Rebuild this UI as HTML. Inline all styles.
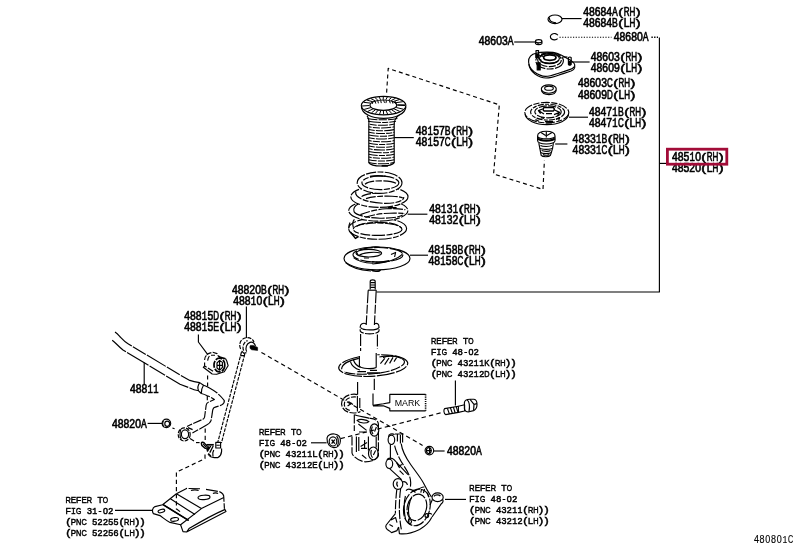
<!DOCTYPE html>
<html><head><meta charset="utf-8"><title>48510 Front Suspension</title>
<style>
html,body{margin:0;padding:0;background:#fff;}
body{width:796px;height:549px;overflow:hidden;font-family:"Liberation Sans",sans-serif;}
svg{will-change:transform;position:absolute;left:0;top:0;display:block;font-family:"Liberation Sans",sans-serif;}
</style></head><body>
<svg width="796" height="549" viewBox="0 0 796 549">
<rect width="796" height="549" fill="#fff"/>
<g fill="none" stroke="#000" stroke-width="1.15" stroke-linecap="butt" stroke-linejoin="round">
<!-- ===== main leader frame ===== -->
<path d="M376.5 292H659.4V37.5"/>
<path d="M659.4 163.4H666"/>
<path d="M651.4 37.3H658" stroke-width="1.4" stroke-dasharray="1.4 1.3"/>
<path d="M559.5 37.2H611.5" stroke-dasharray="1.2 1.5"/>

<!-- ===== 48684A cap ===== -->
<ellipse cx="555" cy="19.3" rx="7" ry="4.3"/>
<path d="M549.3 17.5C549.3 21 552 22.6 556 22.8"/>
<path d="M562 18.6H581.6"/>
<!-- 48680A ring -->
<path d="M557.6 38.6A4 3.2 0 1 1 557.9 35.2"/>
<!-- 48603A nut -->
<path d="M514.2 42H535"/>
<ellipse cx="538.7" cy="41.2" rx="3.2" ry="1.6"/>
<path d="M535.5 41.4V43.6C536.8 45 540.6 45 541.9 43.6V41.4"/>
<path d="M538 42.8V44.6"/>

<!-- ===== 48603 upper support ===== -->
<path d="M528.6 62C528.2 57.5 531.5 54 536 53.2C541 52 552 51.6 557 53.2C561.5 54.6 564.5 56.6 567.3 58.4C570.5 60 574.6 62.4 574.8 65C574.8 67.6 572 68.8 569.5 69.6C565 71 560.5 72.6 557 73.8C553 75.2 549.5 76.4 545.5 76.4C541 76.4 537 74 534 71.8C531 69.4 528.9 66 528.6 62Z"/>
<path d="M528.8 64.2C529.4 68.6 532 71.8 535 74C538 76.2 541.5 78 546 78C550.5 78 554.5 76.6 558.4 75.2C562.5 73.8 567 72.4 571 71C573.6 70 575 68.6 574.8 66.4"/>
<ellipse cx="549.6" cy="60.8" rx="13.8" ry="8.2" stroke-dasharray="12 1.4 7 1.4"/>
<ellipse cx="549.4" cy="58.6" rx="10" ry="5"/>
<ellipse cx="549.8" cy="57.6" rx="6.2" ry="2.7" stroke-width="1.7"/>
<ellipse cx="549.5" cy="60" rx="11.8" ry="6.6" stroke-dasharray="7 1.4"/>
<path d="M541 61.2C543 63.6 555 64 558 61"/>
<path d="M536 50.6H538.6V57.4H536Z"/><path d="M536 54H538.6V57.4H536Z" fill="#000"/>
<path d="M537.2 62.8H540.2V70H537.2Z" fill="#000"/>
<path d="M568.4 57.6C569.2 56.8 570.6 56.8 571.2 57.6V64.4C570.6 65.4 569.2 65.4 568.4 64.4Z"/>
<path d="M568.6 61.5H570.4V64.6H568.6Z" fill="#000"/>
<path d="M571.4 62H589.6"/>
<path d="M562.6 57H567.4"/>
<path d="M538.6 58.6L541.6 60.4M540.4 55.4L543 56.6"/>

<!-- 48603C washer -->
<ellipse cx="548.8" cy="89" rx="7.5" ry="4.2"/>
<ellipse cx="549" cy="88.2" rx="4.3" ry="2.1"/>
<path d="M541.4 90.2C542 93.4 545.5 94.6 549 94.6C552.5 94.6 555.8 93.4 556.2 90.2"/>

<!-- ===== 48471B seat ===== -->
<ellipse cx="546.8" cy="112.6" rx="22" ry="10.2" stroke-dasharray="9 1.5 6 1.5"/>
<path d="M525 114.4C526.4 120.2 535 124.6 546.8 124.6C559 124.6 567.6 120.2 568.6 114.4"/>
<ellipse cx="547.6" cy="112.1" rx="17" ry="7.9" stroke-dasharray="6 1.3 4 1.3"/>
<ellipse cx="548" cy="111.8" rx="13.2" ry="6" stroke-dasharray="8 1.3"/>
<path d="M544 107.6H553.4C554.6 108.4 554.6 110.2 553.4 111H544C542.8 110.2 542.8 108.4 544 107.6Z" stroke-width="1.5"/>
<path d="M542.6 109L538.4 110.6L540.6 113.6M538.4 110.6L544 114M554.6 110L559.6 112.4L557.4 115.6M559.6 112.4L554 114.6M546 113.6H552" stroke-width="1.2"/>
<path d="M535.4 119.6L539 121.2M541 117.6L544 118.4M545 121.4H553M545.6 123H552M556 119.4L559.6 117.6L558.6 120.6" stroke-width="1.2"/>
<path d="M569 117.2H588"/>

<!-- ===== 48331B bumper ===== -->
<path d="M537.6 136C537.4 133 541 131.2 546.3 131.2C551.5 131.2 555.2 133 555 136V140.6C555.2 142.6 551.5 144 546.3 144C541 144 537.4 142.6 537.6 140.6Z"/>
<path d="M537.8 136.8C540 139.4 552.6 139.4 554.8 136.8"/>
<path d="M538 138.4C540 141.4 552.6 141.4 554.8 138.4" stroke-width="2.2"/>
<path d="M546.3 131.4V137.4M541 132.6L545.6 135.6M552 132.6L547 135.6"/>
<path d="M538.8 143.2L539.8 148.2C541.4 149.8 551 149.8 552.6 148.2L553.4 143.2"/>
<path d="M539.8 148.2L540.6 152.4C542 153.8 550 153.8 551.4 152.4L552.6 148.2"/>
<path d="M540.6 152.4L541.2 155.4C542.6 157.2 549 157.2 550.4 155.4L551.4 152.4"/>
<path d="M540.4 145.4C542.6 146.8 550 146.8 552 145.4M541.6 150.6C543.6 151.6 549 151.6 550.6 150.6M543 154.6C544.6 155.2 548 155.2 549.4 154.6"/>
<path d="M555.2 144H567.4"/>

<!-- ===== dashed assembly outline ===== -->
<path d="M386.6 92.6L388.2 68.4L499.3 104.8L493.6 174L543 189.4L544.4 160.5" stroke-dasharray="4 3.1"/>

<!-- ===== 48157B boot ===== -->
<ellipse cx="383.6" cy="105.6" rx="22.3" ry="9.2"/>
<path d="M361.4 106.6C361.8 113.4 371 118.4 383.6 118.4C396.4 118.4 405.6 113.4 405.9 106.6"/>
<ellipse cx="383.4" cy="105.2" rx="13.4" ry="5.2"/>
<path d="M397.4 105.2L405.2 105.6M396.2 107.5L403.3 109.2M393.9 108.8L399.8 111.4M391.5 109.7L396.0 112.7M388.8 110.3L391.9 113.6M386.0 110.6L387.6 114.1M383.4 110.7L383.6 114.3M380.8 110.6L379.6 114.1M378.0 110.3L375.3 113.6M375.5 109.7L371.5 112.8M373.0 108.9L367.6 111.5M370.8 107.6L364.2 109.4M369.4 105.5L362.0 106.0M370.5 103.1L363.6 102.3M372.6 101.7L367.0 100.1M375.2 100.8L370.9 98.6M377.8 100.2L375.0 97.6M380.6 99.8L379.2 97.1M383.2 99.7L383.3 96.9M385.8 99.8L387.3 97.0M388.6 100.1L391.6 97.5M391.1 100.6L395.5 98.3M393.6 101.4L399.3 99.6M395.9 102.7L402.8 101.7M397.4 104.8L405.1 104.9" stroke-width="1"/>
<path d="M372.0 101.2 l0.6 2.6M374.9 101.0 l0.9 2.6M377.8 100.7 l0.6 2.6M380.7 100.5 l0.6 2.6M383.6 100.2 l0.9 2.6M386.5 100.5 l-0.6 2.6M389.4 100.7 l0.9 2.6M392.3 101.0 l0.6 2.6M395.2 101.2 l0.6 2.6" stroke-width="1"/>
<path d="M367 115.6C368.6 118 369.4 121 368.8 125V162.6C370 164.8 375 166 381.2 166C387.4 166 393 164.8 394.2 162.6V125C393.8 121 395 118 399.6 114.6"/>
<g stroke-width="1.05"><path d="M367.4 118.6C374.4 120.2 390.4 120.2 397.4 118.6" stroke-dasharray="8 1.2 11 1.2" stroke-dashoffset="10"/>
<path d="M368.0 121.3C375.0 122.9 389.0 122.9 396.0 121.3" stroke-dasharray="13 1.2 6 1.2" stroke-dashoffset="0"/>
<path d="M368.6 124.1C375.6 125.7 387.6 125.7 394.6 124.1" stroke-dasharray="10 1.2 7 1.2" stroke-dashoffset="10"/>
<path d="M368.8 126.8C375.8 128.4 387.2 128.4 394.2 126.8" stroke-dasharray="10 1.2 7 1.2" stroke-dashoffset="7"/>
<path d="M368.8 129.6C375.8 131.2 387.2 131.2 394.2 129.6" stroke-dasharray="10 1.2 7 1.2" stroke-dashoffset="4"/>
<path d="M368.8 132.3C375.8 133.9 387.2 133.9 394.2 132.3" stroke-dasharray="6 1.2 9 1.2" stroke-dashoffset="0"/>
<path d="M368.8 135.1C375.8 136.7 387.2 136.7 394.2 135.1" stroke-dasharray="10 1.2 7 1.2" stroke-dashoffset="0"/>
<path d="M368.8 137.8C375.8 139.4 387.2 139.4 394.2 137.8" stroke-dasharray="8 1.2 11 1.2" stroke-dashoffset="2"/>
<path d="M368.8 140.6C375.8 142.2 387.2 142.2 394.2 140.6" stroke-dasharray="10 1.2 7 1.2" stroke-dashoffset="7"/>
<path d="M368.8 143.3C375.8 144.9 387.2 144.9 394.2 143.3" stroke-dasharray="6 1.2 9 1.2" stroke-dashoffset="7"/>
<path d="M368.8 146.1C375.8 147.7 387.2 147.7 394.2 146.1" stroke-dasharray="6 1.2 9 1.2" stroke-dashoffset="0"/>
<path d="M368.8 148.8C375.8 150.4 387.2 150.4 394.2 148.8" stroke-dasharray="8 1.2 11 1.2" stroke-dashoffset="4"/>
<path d="M368.8 151.6C375.8 153.2 387.2 153.2 394.2 151.6" stroke-dasharray="13 1.2 6 1.2" stroke-dashoffset="0"/>
<path d="M368.8 154.3C375.8 155.9 387.2 155.9 394.2 154.3" stroke-dasharray="13 1.2 6 1.2" stroke-dashoffset="4"/>
<path d="M368.8 157.1C375.8 158.7 387.2 158.7 394.2 157.1" stroke-dasharray="10 1.2 7 1.2" stroke-dashoffset="7"/>
<path d="M368.8 159.8C375.8 161.4 387.2 161.4 394.2 159.8" stroke-dasharray="10 1.2 7 1.2" stroke-dashoffset="2"/>
<path d="M368.8 162.6C375.8 164.2 387.2 164.2 394.2 162.6" stroke-dasharray="8 1.2 11 1.2" stroke-dashoffset="0"/></g>
<path d="M381.6 165.8H388" stroke-width="1.6"/>
<path d="M394.2 137.6H413.8"/>

<!-- ===== 48131 coil spring ===== -->
<g stroke-dasharray="10 1.4 6 1.4 13 1.4">
<ellipse cx="377.6" cy="228.6" rx="29" ry="10.7" fill="#fff"/>
<ellipse cx="377.6" cy="229.2" rx="24.4" ry="6.2"/>
<path d="M356.4 226.4C362 222.6 376 221.6 388 222.8C395 223.6 400 225.6 401.6 228.4"/>
<path d="M350 222.4C349 224.4 348.6 226.6 348.8 228.6M354.4 219.4C352.6 221.6 352.4 224.6 353.4 227.6"/>
<ellipse cx="378.3" cy="210.6" rx="29.6" ry="10.5" fill="#fff"/>
<path d="M354 211.6C352.6 207 357 203.6 363 202M354 211.6C356 215 366 218 380 218.2C394 218.4 403.6 216.4 403.8 213.2"/>
<path d="M360.4 214.6C368 211.6 377 209.4 386 208.8C394 208.4 401 208.8 405.4 209.8M365.4 217.4C372 214.8 381 213.4 389.6 213.2C395 213 400 213.2 403.2 213.4"/>
<ellipse cx="379.4" cy="196.8" rx="28.6" ry="10.6" fill="#fff"/>
<path d="M355.8 191.6C355 194.6 358 197.6 363 199.6C370 202.4 380 203.8 390 203.2C398 202.6 404 200.4 403.8 197"/>
<path d="M361.6 196.6C364 194.6 369 193.6 376 193.2M366 198.6C372 196.6 382 195.8 392 196.2C397 196.4 401 197 402.8 198"/>
<ellipse cx="379.6" cy="182.7" rx="22.4" ry="10.7" fill="#fff"/>
<ellipse cx="380.4" cy="182.8" rx="18.5" ry="6.8"/>
<path d="M365 184.2C368 181.6 374 180.8 381 180.8C388 180.8 394 181.8 396.6 183.6"/>
</g>
<path d="M370 176.6C373 175.8 380 175.6 385.6 176.2" stroke-width="1.6"/>
<path d="M388 207.8H396.6M350.4 232L355.4 238.4L358.4 236.6" stroke-width="1.5"/>
<path d="M407.6 214.2H427.4"/>

<!-- ===== 48158B lower insulator ===== -->
<ellipse cx="377" cy="258.4" rx="33" ry="11.4"/>
<ellipse cx="378" cy="254.8" rx="25" ry="7.3" stroke-dasharray="14 1.5"/>
<ellipse cx="368.8" cy="253.2" rx="12.8" ry="3.8"/>
<path d="M359 255.6C362 252.6 374 251.4 380.6 253"/>
<path d="M356 251.4L358.6 256M353.6 257.6C358 261.6 366 263 373 263.2M364 258H369M372 261.6C377 262.4 384 262 389 260.6M391 254.6L395.6 252.4L394.6 257M398.4 249.6L401 251.8"/>
<path d="M371.4 269.6C372.6 271.6 379.4 271.8 380.4 269.8" stroke-width="1.6"/>
<path d="M345.6 262.6C350 267 360 270 371 271M372.4 264C380 263.4 391 261 396 258.6C399 257 401.4 255.6 402.4 254"/>
<path d="M370.6 247.6C372.6 246.4 378.4 246.4 380.2 247.6"/>
<path d="M410 255.2H428"/>

<!-- ===== red highlight box ===== -->

<!-- ===== strut (shock absorber) ===== -->
<path d="M370.2 289.6V281.4C370.2 279.4 375.2 279.4 375.2 281.4V289.6"/>
<path d="M370.4 282.6H375M370.4 285H375M370.4 287.4H375" stroke-width="1.2"/>
<path d="M368 290.2H376.4"/>
<path d="M368.2 290.2L366.2 325M376.2 290.2L374.4 325" stroke-dasharray="13 1.6 9 1.6"/>
<path d="M366.2 323.8C363 322.4 360.2 324 360.2 327V331C361.6 334.8 377.6 334.8 379 331V327C379 324 377 322.6 374.6 323.8" stroke-dasharray="9 1.4 6 1.4"/>
<path d="M360.6 327.6C363 330.6 376.6 330.8 378.8 327.6"/>
<path d="M360.6 334V351M377.4 334.6V349" stroke-dasharray="12 2 8 2"/>
<path d="M359.4 356V366.4M376.2 353V367.4"/>
<path d="M359.4 366.4C362 368.8 372 369.4 376.4 367.4"/>
<!-- spring seat plate -->
<g transform="rotate(-4 373.3 365.6)">
<path d="M360 355.8A34.6 10.6 0 1 0 378 355.1" stroke-dasharray="18 1.4 12 1.4"/>
<path d="M341.4 367C342 362 350 358.6 359.4 357.4"/>
<path d="M380 357.4C390 355.8 402 357.8 404.6 363.2C405.4 367.6 396 371.8 380 373.4C366 374.4 351 373.2 343.6 369.8" stroke-dasharray="10 1.4"/>
</g>
<path d="M350.4 361.6C351.6 365.6 355 368.6 360 370M353.4 360C354.6 363.4 357 366 360.6 367.4"/>
<path d="M380.4 363.6L384.8 358.4M384.6 364.6L389 358M389.6 363.4L393 357.4M394 361.6L396.6 357.6M383 357.6C388 355.6 396 355.6 401.6 358.4"/>
<path d="M357.4 371.6H366M367 373H380M370 370.4H377" stroke-width="1.3"/>
<path d="M357.6 382V394.6M374.3 378.8V390M373 393.4V405.4"/>
<!-- MARK tag -->
<path d="M373 405.4L383.4 403.8L389.8 402.6V394.3H425.6M425.6 410.8H389.8V408.4L383.4 405.8H373"/>
<path d="M425.6 394.3V410.8" stroke-width="1.6" stroke-dasharray="1.2 1"/>
<!-- upper fork loop -->
<path d="M357.6 394.6C352 393 344 395.6 342 401C340.4 406 343.6 411 349 412.4C353 413.4 358 413 360.4 411.4" stroke-dasharray="7 1.4"/>
<path d="M356 397C351 396.4 346 398.4 344.6 402.4C343.4 406.4 346 409.6 350 410.4" stroke-dasharray="5 1.4"/>
<path d="M357.4 396V411.6M359.8 398V408" />
<path d="M348.4 401.6L353 404.6M347.6 406L352 403"/>
<!-- bracket body -->
<path d="M354.3 414.6V431M352 436.6V453C352.6 456.6 360 461.6 365 461.8C371 461.8 377.6 459.6 378.4 456V424C378 420.4 374 418.2 370 418.4" stroke-dasharray="9 1.6"/>
<path d="M354.6 414.8C358 416 364 417 369.6 418.4M357 420.4C360 418.6 366.6 419.6 369 421.6C366.6 423.6 360 423.6 357 420.4ZM358.4 424L366.6 430.4M359 432H365.6M356.4 436.6V452M358.8 437V451"/>
<ellipse cx="374.4" cy="430" rx="4.4" ry="6.2"/>
<ellipse cx="373.3" cy="453.4" rx="4.8" ry="6.4"/>
<path d="M372.4 426.6C371.4 428.6 371.6 432 373 434M376.4 427L374.6 431.6M371.4 450C370.6 452.6 371 456 372.6 457.6M375.6 450.4L373.4 455"/>
<path d="M368.4 436.4V450.6M376.2 436.6V447.6M364.6 440V449M360.6 446.6L367 442.6M361 448.4H367M362 455L366.4 458.6" />

<!-- long dashed guide lines -->
<path d="M261.4 352.4L422.6 445.4" stroke-dasharray="4.4 3.2"/>
<path d="M340.6 438.6L443.4 412.2" stroke-dasharray="4.4 3.2"/>

<!-- nut (left of knuckle) -->
<path d="M327 438C327.4 435 331 433.6 334.4 434C338 434.4 340.6 437 340.4 441C340.2 445 337.6 447.8 333.6 447.6C330 447.4 326.8 444 327 438Z"/>
<ellipse cx="333" cy="441.4" rx="3.8" ry="4.6"/>
<path d="M331.6 439.6L334.8 443.6M334.8 439.6L331.6 443.6" stroke-width="1.4"/>
<path d="M336.6 436C338.6 438 339 444 337.2 446.4"/>
<path d="M311 442.8H326.6"/>
<!-- 48820A nut right -->
<circle cx="429.4" cy="450.6" r="4.3"/>
<ellipse cx="428.8" cy="450.6" rx="2.4" ry="3"/>
<path d="M429.6 448V453.4M427 450.6H431.6" />
<path d="M434 451H444.6"/>
<!-- 48820A nut left -->
<ellipse cx="166.4" cy="423.4" rx="4.3" ry="4.2"/>
<ellipse cx="167.2" cy="423.8" rx="2.4" ry="2.6"/>
<path d="M163.4 421C162.4 423 162.6 425.4 164 427" />
<path d="M147.6 423.4H162"/>
<path d="M172.4 428L174.6 428.8"/>

<!-- ===== bolt ===== -->
<path d="M455.4 380.6V405.6"/>
<path d="M444.6 408.6C443.4 410 443.8 413.6 445.6 414.6L458.4 412.4V406.2Z"/>
<path d="M447.4 408.4L449.4 414M450.4 407.8L452.4 413.4M453.4 407.2L455.2 413M456.2 406.6L458 412.4" />
<path d="M458.4 406.2L464.6 404.8V411L458.4 412.4"/>
<path d="M464.4 402.6C464.6 400.6 467 399.2 470 399.2H474C476 399.4 477 402 477 404.6C477 407.4 476 409.6 473.6 410.6L469 411.8C466.6 412 464.6 411 464.4 408.6Z"/>
<path d="M467 399.6C469.4 401.6 470 406 469 411.6M470 399.4L474 404.4L473.6 410.4M474 404.4L477 403.6"/>

<!-- ===== knuckle ===== -->
<ellipse cx="391.4" cy="439.8" rx="3.3" ry="4.7"/>
<path d="M388.6 437C388.4 434 392 433 394.6 434.6M395 434H402.6V442.4M397.4 434.2V441.6M400.4 435V443.4"/>
<path d="M390.4 444.6V458.6"/>
<ellipse cx="389.3" cy="463.8" rx="3.4" ry="4.7"/>
<path d="M387 460C388 457.6 392 457.6 394 459.6L408 474.6M389.6 468.6L401.6 479.6"/>
<path d="M394.6 445.6C396 452 400 460 404 466C407 470.6 409.6 475 410.4 479.6C411 483 410.6 486 410.2 488" stroke-dasharray="10 1.5"/>
<path d="M401.2 443.6C402 450 406 458 411 465C416 472 421 478 424 484C427 490 429.6 494 431.4 497" />
<path d="M396.6 462.6L399.6 468M398 466.6L402 464.6M399.6 470.6L403.6 474.6"/>
<ellipse cx="398" cy="484" rx="4.8" ry="5.4"/>
<path d="M397.4 481.6C396.6 483 396.8 485.4 397.8 486.6M402.4 482C405 481 407 482.6 407.4 485"/>
<path d="M396.8 489.6C396 496 395.4 506 395.4 513.6" stroke-dasharray="9 1.5"/>
<path d="M400.6 489C399.6 496 399 506 399.6 515C400 521 400.6 526 401.4 529.6" stroke-dasharray="9 1.5"/>
<path d="M395.4 513.6L386.2 525C385 527 386.6 529.6 389 530.6L391.6 532.6L397 530.6L398.6 527M391 520L395.6 517.6L397 522.6M389.4 524.6L393 526.4M398.6 527L399.4 533.6C404 534.4 412 533 419.6 529.4C425 526.4 429.6 521.6 431.8 517.2" />
<g transform="rotate(14 417 507)">
<ellipse cx="417" cy="507.4" rx="13" ry="18.6" stroke-dasharray="11 1.5"/>
<ellipse cx="417" cy="507.4" rx="9.6" ry="13.4" stroke-dasharray="14 1.5"/>
<path d="M409.6 498C408 504 408.6 513 412 518.6" />
</g>
<path d="M406 490.6C408 488 411.6 489.6 414 491.4C418 489 422 486.6 424.4 487M424.6 489L423.4 493M409.4 522.4C408 520.6 408.6 518 410.6 517.6M405.4 496C404 502 404 512 405.6 519.6"/>
<ellipse cx="409.8" cy="521.6" rx="1.7" ry="2"/><ellipse cx="426.8" cy="515.6" rx="1.8" ry="2"/>
<path d="M412.6 489.6L415.4 492.6M421.6 489L420.8 492.6M427.4 492.6L428.6 497"/>
<ellipse cx="437.6" cy="497.2" rx="5.6" ry="4.4"/>
<path d="M434 496.4C435 494.6 439 494.4 440.4 496M432.4 499.6L430 505M442.6 499.6C443.4 501 443 503 441.4 503.6L432 517M428 514.6C429 513 431 513 431.8 514.6"/>
<path d="M445 499.4H466"/>

<!-- ===== stabilizer bar ===== -->
<path d="M115 332C117.6 333.6 119 335.6 120.6 337.4C123 340 125.6 342.4 128.4 344L180 374.9L189.8 380.4C193 381.6 196.6 382.2 199.7 382.6" stroke-dasharray="22 1.3 15 1.3"/>
<path d="M112.2 340.2C115.6 342.6 118.6 346.6 123 350L180 384.2L189.8 388C193 389.6 196 390.4 198.6 390.8" stroke-dasharray="18 1.3 25 1.3"/>
<path d="M199.7 382.6C198 385 197.6 388.6 198.6 390.8L201.3 393.5C201.2 391 202 387.6 203.5 385.3Z"/>
<path d="M203.5 385.3C205.6 386 207.6 387 209.5 388C212 389.4 214.8 391.2 217.2 393C220 395.6 223 398.4 224.3 400.6C224.6 402.6 223.4 404 221.5 405C219 406.2 216 406.6 213.9 407.7C212.6 409 212.4 411 212.2 413.7L211.1 420.3C210.4 422.6 208.6 424 206.2 425.2L199.7 429L192.4 433" stroke-dasharray="16 1.3"/>
<path d="M201.3 393.5C203.4 394 205.4 394.8 207.3 395.7C210 396.8 212.4 398 214.4 399.5L209.5 401.7C207.6 402.4 206.4 403.4 206.2 405L204.6 417C204.4 418.2 203.8 418.8 203 419.2L190.9 424.6L187 426.6" stroke-dasharray="9 1.3"/>
<ellipse cx="184.2" cy="434.4" rx="6" ry="6.6" stroke-dasharray="4 1.2"/>
<ellipse cx="185" cy="434.2" rx="3.6" ry="4.4"/>
<path d="M181 429C179.6 431.6 179.6 437 181.4 439.6M188 427.6L192.6 429.6M190 438.6L194 441" />
<path d="M196 442.6H199.6"/>
<path d="M144.2 362.6V384.4"/>

<!-- bushing 48815D -->
<path d="M198.4 334.4V342L207.6 354.4"/>
<path d="M206.8 354.6C208.6 353.4 210.6 352.6 212.8 352.3L217 353.6L218.2 356.1" stroke-dasharray="5 1.3"/>
<path d="M206.4 355.4C205.2 356.6 204.6 358 204.6 360M204.6 362.4V366L213.5 371.4" stroke-dasharray="6 1.5"/>
<path d="M209.4 356C208.4 357.4 207.8 359 207.6 360.6M211 355.2H215"/>
<path d="M204.6 366L203.3 367.3L212.2 374L216.7 374.3L220.5 373L224.3 371.8L228.1 365.7L226.8 361L225.6 358.7"/>
<path d="M218.2 356.1L220.5 357.4L225.6 358.7" stroke-width="1.7"/>
<ellipse cx="219.4" cy="365" rx="5.4" ry="6.9" stroke-width="1.7" stroke-dasharray="7 1.2"/>
<path d="M219.6 360.4L222.4 362.4V367.4L219.8 370.2L217 368V363Z"/>
<path d="M219.6 360.4V370M217 365.4H222.4"/>
<path d="M207.6 375.4V386.6M207.3 396V401M205.2 428.5V440.5M205 454.6V458.6L176.4 472.2V509.6" stroke-dasharray="4.2 3"/>

<!-- ===== stabilizer link ===== -->
<path d="M246.4 306.4V338"/>
<path d="M240.6 349C238.6 345 240 339.6 245 338C249 336.8 252.6 338.6 254 342" stroke-dasharray="4 1.3"/>
<path d="M243.6 350.6C242 346.6 243.6 342 247.6 340.6" stroke-dasharray="4 1.3"/>
<path d="M246.6 351.6C245 347.6 246.6 343.6 250 342.4C253 341.4 255 343.6 255.4 346" />
<path d="M250.4 345.4C249.4 347 250 349.2 251.8 349.8L257.6 350.4V347.4L253.4 345.4Z" fill="#000" stroke-width="0.6"/>
<path d="M241.6 351L244 353.4L246.4 352.6M240.4 355.6H244.6"/>
<path d="M241.5 352L217.7 442.6M244.8 354L221.4 443" stroke-dasharray="3.6 1.2"/>
<path d="M208 454C209.6 456.4 212 457.6 214.2 457.6H218C220 456.4 221.4 453.6 221.6 451.4V448.4"/>
<path d="M206.4 444.8H213.8" stroke-width="1.7"/>
<path d="M210.8 446L207.2 451.6M213.2 446L209.8 452.6M209 446.4L206.6 450.4" stroke-width="1.3"/>
<path d="M213.8 450L212.8 452.8L213 456.8M208.4 453.4L211 456.2"/>
<path d="M201.4 443.6C201.2 442.2 202.8 441.8 204 442.6L207.2 446.4C207.6 447.8 206.2 448.8 205 448.2L201.8 445.4Z" stroke-width="1.4"/>
<path d="M203 443.6L206 447.2"/>
<path d="M215.8 442.4H220.6V448H215.8ZM216.6 445.2H219.8"/>

<!-- ===== bracket (bottom left) ===== -->
<path d="M115 510.4H152"/>
<path d="M176.4 493.8L186.6 488.4L200 488.8M206 489.4L219.4 491.6C222 492.6 224 495 223.8 497.6L224.4 508.6" stroke-dasharray="12 1.5"/>
<path d="M176.4 493.8L162.6 504.8L155 506.6C152 508 152 511.6 153.4 513.6L160 515.6C163 517.6 166 520.6 170 522.4L180.6 524.8L201.4 508.6L223.8 497.6"/>
<path d="M176.4 493.8L201.4 508.6M170.4 498.8L195 514.6M163 504.6L188.6 520.4" />
<path d="M163 504.6L188.6 520.4" stroke-width="1.6"/>
<ellipse cx="204" cy="497.4" rx="6" ry="2.2" transform="rotate(-4 204 497.4)"/>
<path d="M191 490.6C193 489.6 197 489.6 198.6 490.6M213 493.6C214 492.6 217 492.6 218 493.6"/>
<ellipse cx="161.4" cy="511" rx="3.4" ry="1.6" transform="rotate(-15 161.4 511)"/>
<ellipse cx="174.6" cy="519.4" rx="4" ry="1.8" transform="rotate(-8 174.6 519.4)"/>
<path d="M180.6 524.8L183 531.6L186.6 532L226 511.6L224.4 508.6M186.6 532L189 528.6C200 522 212 515 224.6 509.6" />
<path d="M176.6 509L180 511.6"/>
</g>

<g font-size="12.1" text-anchor="middle" stroke="#000" stroke-width="0.62" fill="#000">
<text transform="translate(586.09 15.6) scale(0.860 1)">4</text>
<text transform="translate(591.87 15.6) scale(0.860 1)">8</text>
<text transform="translate(597.65 15.6) scale(0.860 1)">6</text>
<text transform="translate(603.43 15.6) scale(0.860 1)">8</text>
<text transform="translate(609.21 15.6) scale(0.860 1)">4</text>
<text transform="translate(614.99 15.6) scale(0.719 1)">A</text>
<text transform="translate(620.77 15.6) scale(1.200 0.87)">(</text>
<text transform="translate(626.55 15.6) scale(0.664 1)">R</text>
<text transform="translate(632.33 15.6) scale(0.664 1)">H</text>
<text transform="translate(638.11 15.6) scale(1.200 0.87)">)</text>
<text transform="translate(586.09 26.8) scale(0.860 1)">4</text>
<text transform="translate(591.87 26.8) scale(0.860 1)">8</text>
<text transform="translate(597.65 26.8) scale(0.860 1)">6</text>
<text transform="translate(603.43 26.8) scale(0.860 1)">8</text>
<text transform="translate(609.21 26.8) scale(0.860 1)">4</text>
<text transform="translate(614.99 26.8) scale(0.719 1)">B</text>
<text transform="translate(620.77 26.8) scale(1.200 0.87)">(</text>
<text transform="translate(626.55 26.8) scale(0.860 1)">L</text>
<text transform="translate(632.33 26.8) scale(0.664 1)">H</text>
<text transform="translate(638.11 26.8) scale(1.200 0.87)">)</text>
<text transform="translate(616.69 41.2) scale(0.860 1)">4</text>
<text transform="translate(622.47 41.2) scale(0.860 1)">8</text>
<text transform="translate(628.25 41.2) scale(0.860 1)">6</text>
<text transform="translate(634.03 41.2) scale(0.860 1)">8</text>
<text transform="translate(639.81 41.2) scale(0.860 1)">0</text>
<text transform="translate(645.59 41.2) scale(0.719 1)">A</text>
<text transform="translate(481.69 45.4) scale(0.860 1)">4</text>
<text transform="translate(487.47 45.4) scale(0.860 1)">8</text>
<text transform="translate(493.25 45.4) scale(0.860 1)">6</text>
<text transform="translate(499.03 45.4) scale(0.860 1)">0</text>
<text transform="translate(504.81 45.4) scale(0.860 1)">3</text>
<text transform="translate(510.59 45.4) scale(0.719 1)">A</text>
<text transform="translate(593.69 61.3) scale(0.860 1)">4</text>
<text transform="translate(599.47 61.3) scale(0.860 1)">8</text>
<text transform="translate(605.25 61.3) scale(0.860 1)">6</text>
<text transform="translate(611.03 61.3) scale(0.860 1)">0</text>
<text transform="translate(616.81 61.3) scale(0.860 1)">3</text>
<text transform="translate(622.59 61.3) scale(1.200 0.87)">(</text>
<text transform="translate(628.37 61.3) scale(0.664 1)">R</text>
<text transform="translate(634.15 61.3) scale(0.664 1)">H</text>
<text transform="translate(639.93 61.3) scale(1.200 0.87)">)</text>
<text transform="translate(593.69 72.4) scale(0.860 1)">4</text>
<text transform="translate(599.47 72.4) scale(0.860 1)">8</text>
<text transform="translate(605.25 72.4) scale(0.860 1)">6</text>
<text transform="translate(611.03 72.4) scale(0.860 1)">0</text>
<text transform="translate(616.81 72.4) scale(0.860 1)">9</text>
<text transform="translate(622.59 72.4) scale(1.200 0.87)">(</text>
<text transform="translate(628.37 72.4) scale(0.860 1)">L</text>
<text transform="translate(634.15 72.4) scale(0.664 1)">H</text>
<text transform="translate(639.93 72.4) scale(1.200 0.87)">)</text>
<text transform="translate(580.89 87.3) scale(0.860 1)">4</text>
<text transform="translate(586.67 87.3) scale(0.860 1)">8</text>
<text transform="translate(592.45 87.3) scale(0.860 1)">6</text>
<text transform="translate(598.23 87.3) scale(0.860 1)">0</text>
<text transform="translate(604.01 87.3) scale(0.860 1)">3</text>
<text transform="translate(609.79 87.3) scale(0.664 1)">C</text>
<text transform="translate(615.57 87.3) scale(1.200 0.87)">(</text>
<text transform="translate(621.35 87.3) scale(0.664 1)">R</text>
<text transform="translate(627.13 87.3) scale(0.664 1)">H</text>
<text transform="translate(632.91 87.3) scale(1.200 0.87)">)</text>
<text transform="translate(580.89 98.6) scale(0.860 1)">4</text>
<text transform="translate(586.67 98.6) scale(0.860 1)">8</text>
<text transform="translate(592.45 98.6) scale(0.860 1)">6</text>
<text transform="translate(598.23 98.6) scale(0.860 1)">0</text>
<text transform="translate(604.01 98.6) scale(0.860 1)">9</text>
<text transform="translate(609.79 98.6) scale(0.664 1)">D</text>
<text transform="translate(615.57 98.6) scale(1.200 0.87)">(</text>
<text transform="translate(621.35 98.6) scale(0.860 1)">L</text>
<text transform="translate(627.13 98.6) scale(0.664 1)">H</text>
<text transform="translate(632.91 98.6) scale(1.200 0.87)">)</text>
<text transform="translate(591.89 115.5) scale(0.860 1)">4</text>
<text transform="translate(597.67 115.5) scale(0.860 1)">8</text>
<text transform="translate(603.45 115.5) scale(0.860 1)">4</text>
<text transform="translate(609.23 115.5) scale(0.860 1)">7</text>
<text font-family="Liberation Mono" transform="translate(615.01 115.5) scale(0.735 1.03)">1</text>
<text transform="translate(620.79 115.5) scale(0.719 1)">B</text>
<text transform="translate(626.57 115.5) scale(1.200 0.87)">(</text>
<text transform="translate(632.35 115.5) scale(0.664 1)">R</text>
<text transform="translate(638.13 115.5) scale(0.664 1)">H</text>
<text transform="translate(643.91 115.5) scale(1.200 0.87)">)</text>
<text transform="translate(591.89 127.0) scale(0.860 1)">4</text>
<text transform="translate(597.67 127.0) scale(0.860 1)">8</text>
<text transform="translate(603.45 127.0) scale(0.860 1)">4</text>
<text transform="translate(609.23 127.0) scale(0.860 1)">7</text>
<text font-family="Liberation Mono" transform="translate(615.01 127.0) scale(0.735 1.03)">1</text>
<text transform="translate(620.79 127.0) scale(0.664 1)">C</text>
<text transform="translate(626.57 127.0) scale(1.200 0.87)">(</text>
<text transform="translate(632.35 127.0) scale(0.860 1)">L</text>
<text transform="translate(638.13 127.0) scale(0.664 1)">H</text>
<text transform="translate(643.91 127.0) scale(1.200 0.87)">)</text>
<text transform="translate(575.49 143.0) scale(0.860 1)">4</text>
<text transform="translate(581.27 143.0) scale(0.860 1)">8</text>
<text transform="translate(587.05 143.0) scale(0.860 1)">3</text>
<text transform="translate(592.83 143.0) scale(0.860 1)">3</text>
<text font-family="Liberation Mono" transform="translate(598.61 143.0) scale(0.735 1.03)">1</text>
<text transform="translate(604.39 143.0) scale(0.719 1)">B</text>
<text transform="translate(610.17 143.0) scale(1.200 0.87)">(</text>
<text transform="translate(615.95 143.0) scale(0.664 1)">R</text>
<text transform="translate(621.73 143.0) scale(0.664 1)">H</text>
<text transform="translate(627.51 143.0) scale(1.200 0.87)">)</text>
<text transform="translate(575.49 154.4) scale(0.860 1)">4</text>
<text transform="translate(581.27 154.4) scale(0.860 1)">8</text>
<text transform="translate(587.05 154.4) scale(0.860 1)">3</text>
<text transform="translate(592.83 154.4) scale(0.860 1)">3</text>
<text font-family="Liberation Mono" transform="translate(598.61 154.4) scale(0.735 1.03)">1</text>
<text transform="translate(604.39 154.4) scale(0.664 1)">C</text>
<text transform="translate(610.17 154.4) scale(1.200 0.87)">(</text>
<text transform="translate(615.95 154.4) scale(0.860 1)">L</text>
<text transform="translate(621.73 154.4) scale(0.664 1)">H</text>
<text transform="translate(627.51 154.4) scale(1.200 0.87)">)</text>
<text transform="translate(674.89 161.0) scale(0.860 1)">4</text>
<text transform="translate(680.67 161.0) scale(0.860 1)">8</text>
<text transform="translate(686.45 161.0) scale(0.860 1)">5</text>
<text font-family="Liberation Mono" transform="translate(692.23 161.0) scale(0.735 1.03)">1</text>
<text transform="translate(698.01 161.0) scale(0.860 1)">0</text>
<text transform="translate(703.79 161.0) scale(1.200 0.87)">(</text>
<text transform="translate(709.57 161.0) scale(0.664 1)">R</text>
<text transform="translate(715.35 161.0) scale(0.664 1)">H</text>
<text transform="translate(721.13 161.0) scale(1.200 0.87)">)</text>
<text transform="translate(674.89 172.2) scale(0.860 1)">4</text>
<text transform="translate(680.67 172.2) scale(0.860 1)">8</text>
<text transform="translate(686.45 172.2) scale(0.860 1)">5</text>
<text transform="translate(692.23 172.2) scale(0.860 1)">2</text>
<text transform="translate(698.01 172.2) scale(0.860 1)">0</text>
<text transform="translate(703.79 172.2) scale(1.200 0.87)">(</text>
<text transform="translate(709.57 172.2) scale(0.860 1)">L</text>
<text transform="translate(715.35 172.2) scale(0.664 1)">H</text>
<text transform="translate(721.13 172.2) scale(1.200 0.87)">)</text>
<text transform="translate(418.69 135.3) scale(0.860 1)">4</text>
<text transform="translate(424.47 135.3) scale(0.860 1)">8</text>
<text font-family="Liberation Mono" transform="translate(430.25 135.3) scale(0.735 1.03)">1</text>
<text transform="translate(436.03 135.3) scale(0.860 1)">5</text>
<text transform="translate(441.81 135.3) scale(0.860 1)">7</text>
<text transform="translate(447.59 135.3) scale(0.719 1)">B</text>
<text transform="translate(453.37 135.3) scale(1.200 0.87)">(</text>
<text transform="translate(459.15 135.3) scale(0.664 1)">R</text>
<text transform="translate(464.93 135.3) scale(0.664 1)">H</text>
<text transform="translate(470.71 135.3) scale(1.200 0.87)">)</text>
<text transform="translate(418.69 146.4) scale(0.860 1)">4</text>
<text transform="translate(424.47 146.4) scale(0.860 1)">8</text>
<text font-family="Liberation Mono" transform="translate(430.25 146.4) scale(0.735 1.03)">1</text>
<text transform="translate(436.03 146.4) scale(0.860 1)">5</text>
<text transform="translate(441.81 146.4) scale(0.860 1)">7</text>
<text transform="translate(447.59 146.4) scale(0.664 1)">C</text>
<text transform="translate(453.37 146.4) scale(1.200 0.87)">(</text>
<text transform="translate(459.15 146.4) scale(0.860 1)">L</text>
<text transform="translate(464.93 146.4) scale(0.664 1)">H</text>
<text transform="translate(470.71 146.4) scale(1.200 0.87)">)</text>
<text transform="translate(432.19 213.0) scale(0.860 1)">4</text>
<text transform="translate(437.97 213.0) scale(0.860 1)">8</text>
<text font-family="Liberation Mono" transform="translate(443.75 213.0) scale(0.735 1.03)">1</text>
<text transform="translate(449.53 213.0) scale(0.860 1)">3</text>
<text font-family="Liberation Mono" transform="translate(455.31 213.0) scale(0.735 1.03)">1</text>
<text transform="translate(461.09 213.0) scale(1.200 0.87)">(</text>
<text transform="translate(466.87 213.0) scale(0.664 1)">R</text>
<text transform="translate(472.65 213.0) scale(0.664 1)">H</text>
<text transform="translate(478.43 213.0) scale(1.200 0.87)">)</text>
<text transform="translate(432.19 223.9) scale(0.860 1)">4</text>
<text transform="translate(437.97 223.9) scale(0.860 1)">8</text>
<text font-family="Liberation Mono" transform="translate(443.75 223.9) scale(0.735 1.03)">1</text>
<text transform="translate(449.53 223.9) scale(0.860 1)">3</text>
<text transform="translate(455.31 223.9) scale(0.860 1)">2</text>
<text transform="translate(461.09 223.9) scale(1.200 0.87)">(</text>
<text transform="translate(466.87 223.9) scale(0.860 1)">L</text>
<text transform="translate(472.65 223.9) scale(0.664 1)">H</text>
<text transform="translate(478.43 223.9) scale(1.200 0.87)">)</text>
<text transform="translate(431.39 253.6) scale(0.860 1)">4</text>
<text transform="translate(437.17 253.6) scale(0.860 1)">8</text>
<text font-family="Liberation Mono" transform="translate(442.95 253.6) scale(0.735 1.03)">1</text>
<text transform="translate(448.73 253.6) scale(0.860 1)">5</text>
<text transform="translate(454.51 253.6) scale(0.860 1)">8</text>
<text transform="translate(460.29 253.6) scale(0.719 1)">B</text>
<text transform="translate(466.07 253.6) scale(1.200 0.87)">(</text>
<text transform="translate(471.85 253.6) scale(0.664 1)">R</text>
<text transform="translate(477.63 253.6) scale(0.664 1)">H</text>
<text transform="translate(483.41 253.6) scale(1.200 0.87)">)</text>
<text transform="translate(431.39 264.9) scale(0.860 1)">4</text>
<text transform="translate(437.17 264.9) scale(0.860 1)">8</text>
<text font-family="Liberation Mono" transform="translate(442.95 264.9) scale(0.735 1.03)">1</text>
<text transform="translate(448.73 264.9) scale(0.860 1)">5</text>
<text transform="translate(454.51 264.9) scale(0.860 1)">8</text>
<text transform="translate(460.29 264.9) scale(0.664 1)">C</text>
<text transform="translate(466.07 264.9) scale(1.200 0.87)">(</text>
<text transform="translate(471.85 264.9) scale(0.860 1)">L</text>
<text transform="translate(477.63 264.9) scale(0.664 1)">H</text>
<text transform="translate(483.41 264.9) scale(1.200 0.87)">)</text>
<text transform="translate(234.89 294.0) scale(0.860 1)">4</text>
<text transform="translate(240.67 294.0) scale(0.860 1)">8</text>
<text transform="translate(246.45 294.0) scale(0.860 1)">8</text>
<text transform="translate(252.23 294.0) scale(0.860 1)">2</text>
<text transform="translate(258.01 294.0) scale(0.860 1)">0</text>
<text transform="translate(263.79 294.0) scale(0.719 1)">B</text>
<text transform="translate(269.57 294.0) scale(1.200 0.87)">(</text>
<text transform="translate(275.35 294.0) scale(0.664 1)">R</text>
<text transform="translate(281.13 294.0) scale(0.664 1)">H</text>
<text transform="translate(286.91 294.0) scale(1.200 0.87)">)</text>
<text transform="translate(236.19 304.9) scale(0.860 1)">4</text>
<text transform="translate(241.97 304.9) scale(0.860 1)">8</text>
<text transform="translate(247.75 304.9) scale(0.860 1)">8</text>
<text font-family="Liberation Mono" transform="translate(253.53 304.9) scale(0.735 1.03)">1</text>
<text transform="translate(259.31 304.9) scale(0.860 1)">0</text>
<text transform="translate(265.09 304.9) scale(1.200 0.87)">(</text>
<text transform="translate(270.87 304.9) scale(0.860 1)">L</text>
<text transform="translate(276.65 304.9) scale(0.664 1)">H</text>
<text transform="translate(282.43 304.9) scale(1.200 0.87)">)</text>
<text transform="translate(187.19 320.0) scale(0.860 1)">4</text>
<text transform="translate(192.97 320.0) scale(0.860 1)">8</text>
<text transform="translate(198.75 320.0) scale(0.860 1)">8</text>
<text font-family="Liberation Mono" transform="translate(204.53 320.0) scale(0.735 1.03)">1</text>
<text transform="translate(210.31 320.0) scale(0.860 1)">5</text>
<text transform="translate(216.09 320.0) scale(0.664 1)">D</text>
<text transform="translate(221.87 320.0) scale(1.200 0.87)">(</text>
<text transform="translate(227.65 320.0) scale(0.664 1)">R</text>
<text transform="translate(233.43 320.0) scale(0.664 1)">H</text>
<text transform="translate(239.21 320.0) scale(1.200 0.87)">)</text>
<text transform="translate(187.19 331.3) scale(0.860 1)">4</text>
<text transform="translate(192.97 331.3) scale(0.860 1)">8</text>
<text transform="translate(198.75 331.3) scale(0.860 1)">8</text>
<text font-family="Liberation Mono" transform="translate(204.53 331.3) scale(0.735 1.03)">1</text>
<text transform="translate(210.31 331.3) scale(0.860 1)">5</text>
<text transform="translate(216.09 331.3) scale(0.719 1)">E</text>
<text transform="translate(221.87 331.3) scale(1.200 0.87)">(</text>
<text transform="translate(227.65 331.3) scale(0.860 1)">L</text>
<text transform="translate(233.43 331.3) scale(0.664 1)">H</text>
<text transform="translate(239.21 331.3) scale(1.200 0.87)">)</text>
<text transform="translate(132.89 393.3) scale(0.860 1)">4</text>
<text transform="translate(138.67 393.3) scale(0.860 1)">8</text>
<text transform="translate(144.45 393.3) scale(0.860 1)">8</text>
<text font-family="Liberation Mono" transform="translate(150.23 393.3) scale(0.735 1.03)">1</text>
<text font-family="Liberation Mono" transform="translate(156.01 393.3) scale(0.735 1.03)">1</text>
<text transform="translate(114.89 428.0) scale(0.860 1)">4</text>
<text transform="translate(120.67 428.0) scale(0.860 1)">8</text>
<text transform="translate(126.45 428.0) scale(0.860 1)">8</text>
<text transform="translate(132.23 428.0) scale(0.860 1)">2</text>
<text transform="translate(138.01 428.0) scale(0.860 1)">0</text>
<text transform="translate(143.79 428.0) scale(0.719 1)">A</text>
<text transform="translate(449.89 455.2) scale(0.860 1)">4</text>
<text transform="translate(455.67 455.2) scale(0.860 1)">8</text>
<text transform="translate(461.45 455.2) scale(0.860 1)">8</text>
<text transform="translate(467.23 455.2) scale(0.860 1)">2</text>
<text transform="translate(473.01 455.2) scale(0.860 1)">0</text>
<text transform="translate(478.79 455.2) scale(0.719 1)">A</text>
</g>
<g font-size="9.7" text-anchor="middle" stroke="#000" stroke-width="0.5" fill="#000">
<text transform="translate(433.67 343.9) scale(0.757 1)">R</text>
<text transform="translate(439.00 343.9) scale(0.819 1)">E</text>
<text transform="translate(444.32 343.9) scale(0.894 1)">F</text>
<text transform="translate(449.65 343.9) scale(0.819 1)">E</text>
<text transform="translate(454.99 343.9) scale(0.757 1)">R</text>
<text transform="translate(465.64 343.9) scale(0.894 1)">T</text>
<text transform="translate(470.98 343.9) scale(0.702 1)">O</text>
<text transform="translate(433.67 355.0) scale(0.894 1)">F</text>
<text font-family="Liberation Mono" transform="translate(439.00 355.0) scale(0.838 1.03)">I</text>
<text transform="translate(444.32 355.0) scale(0.702 1)">G</text>
<text transform="translate(454.99 355.0) scale(0.920 1)">4</text>
<text transform="translate(460.31 355.0) scale(0.920 1)">8</text>
<text transform="translate(465.64 355.0) scale(0.920 1)">-</text>
<text transform="translate(470.98 355.0) scale(0.920 1)">0</text>
<text transform="translate(476.31 355.0) scale(0.920 1)">2</text>
<text transform="translate(433.67 366.0) scale(1.200 0.87)">(</text>
<text transform="translate(439.00 366.0) scale(0.819 1)">P</text>
<text transform="translate(444.32 366.0) scale(0.757 1)">N</text>
<text transform="translate(449.65 366.0) scale(0.757 1)">C</text>
<text transform="translate(460.31 366.0) scale(0.920 1)">4</text>
<text transform="translate(465.64 366.0) scale(0.920 1)">3</text>
<text transform="translate(470.98 366.0) scale(0.920 1)">2</text>
<text font-family="Liberation Mono" transform="translate(476.31 366.0) scale(0.838 1.03)">1</text>
<text font-family="Liberation Mono" transform="translate(481.63 366.0) scale(0.838 1.03)">1</text>
<text transform="translate(486.97 366.0) scale(0.819 1)">K</text>
<text transform="translate(492.30 366.0) scale(1.200 0.87)">(</text>
<text transform="translate(497.62 366.0) scale(0.757 1)">R</text>
<text transform="translate(502.95 366.0) scale(0.757 1)">H</text>
<text transform="translate(508.28 366.0) scale(1.200 0.87)">)</text>
<text transform="translate(513.62 366.0) scale(1.200 0.87)">)</text>
<text transform="translate(433.67 377.1) scale(1.200 0.87)">(</text>
<text transform="translate(439.00 377.1) scale(0.819 1)">P</text>
<text transform="translate(444.32 377.1) scale(0.757 1)">N</text>
<text transform="translate(449.65 377.1) scale(0.757 1)">C</text>
<text transform="translate(460.31 377.1) scale(0.920 1)">4</text>
<text transform="translate(465.64 377.1) scale(0.920 1)">3</text>
<text transform="translate(470.98 377.1) scale(0.920 1)">2</text>
<text font-family="Liberation Mono" transform="translate(476.31 377.1) scale(0.838 1.03)">1</text>
<text transform="translate(481.63 377.1) scale(0.920 1)">2</text>
<text transform="translate(486.97 377.1) scale(0.757 1)">D</text>
<text transform="translate(492.30 377.1) scale(1.200 0.87)">(</text>
<text transform="translate(497.62 377.1) scale(0.920 1)">L</text>
<text transform="translate(502.95 377.1) scale(0.757 1)">H</text>
<text transform="translate(508.28 377.1) scale(1.200 0.87)">)</text>
<text transform="translate(513.62 377.1) scale(1.200 0.87)">)</text>
<text transform="translate(261.67 435.2) scale(0.757 1)">R</text>
<text transform="translate(267.00 435.2) scale(0.819 1)">E</text>
<text transform="translate(272.32 435.2) scale(0.894 1)">F</text>
<text transform="translate(277.65 435.2) scale(0.819 1)">E</text>
<text transform="translate(282.99 435.2) scale(0.757 1)">R</text>
<text transform="translate(293.64 435.2) scale(0.894 1)">T</text>
<text transform="translate(298.98 435.2) scale(0.702 1)">O</text>
<text transform="translate(261.67 446.3) scale(0.894 1)">F</text>
<text font-family="Liberation Mono" transform="translate(267.00 446.3) scale(0.838 1.03)">I</text>
<text transform="translate(272.32 446.3) scale(0.702 1)">G</text>
<text transform="translate(282.99 446.3) scale(0.920 1)">4</text>
<text transform="translate(288.31 446.3) scale(0.920 1)">8</text>
<text transform="translate(293.64 446.3) scale(0.920 1)">-</text>
<text transform="translate(298.98 446.3) scale(0.920 1)">0</text>
<text transform="translate(304.31 446.3) scale(0.920 1)">2</text>
<text transform="translate(261.67 457.2) scale(1.200 0.87)">(</text>
<text transform="translate(267.00 457.2) scale(0.819 1)">P</text>
<text transform="translate(272.32 457.2) scale(0.757 1)">N</text>
<text transform="translate(277.65 457.2) scale(0.757 1)">C</text>
<text transform="translate(288.31 457.2) scale(0.920 1)">4</text>
<text transform="translate(293.64 457.2) scale(0.920 1)">3</text>
<text transform="translate(298.98 457.2) scale(0.920 1)">2</text>
<text font-family="Liberation Mono" transform="translate(304.31 457.2) scale(0.838 1.03)">1</text>
<text font-family="Liberation Mono" transform="translate(309.63 457.2) scale(0.838 1.03)">1</text>
<text transform="translate(314.97 457.2) scale(0.920 1)">L</text>
<text transform="translate(320.30 457.2) scale(1.200 0.87)">(</text>
<text transform="translate(325.62 457.2) scale(0.757 1)">R</text>
<text transform="translate(330.95 457.2) scale(0.757 1)">H</text>
<text transform="translate(336.28 457.2) scale(1.200 0.87)">)</text>
<text transform="translate(341.62 457.2) scale(1.200 0.87)">)</text>
<text transform="translate(261.67 468.1) scale(1.200 0.87)">(</text>
<text transform="translate(267.00 468.1) scale(0.819 1)">P</text>
<text transform="translate(272.32 468.1) scale(0.757 1)">N</text>
<text transform="translate(277.65 468.1) scale(0.757 1)">C</text>
<text transform="translate(288.31 468.1) scale(0.920 1)">4</text>
<text transform="translate(293.64 468.1) scale(0.920 1)">3</text>
<text transform="translate(298.98 468.1) scale(0.920 1)">2</text>
<text font-family="Liberation Mono" transform="translate(304.31 468.1) scale(0.838 1.03)">1</text>
<text transform="translate(309.63 468.1) scale(0.920 1)">2</text>
<text transform="translate(314.97 468.1) scale(0.819 1)">E</text>
<text transform="translate(320.30 468.1) scale(1.200 0.87)">(</text>
<text transform="translate(325.62 468.1) scale(0.920 1)">L</text>
<text transform="translate(330.95 468.1) scale(0.757 1)">H</text>
<text transform="translate(336.28 468.1) scale(1.200 0.87)">)</text>
<text transform="translate(341.62 468.1) scale(1.200 0.87)">)</text>
<text transform="translate(471.97 490.6) scale(0.757 1)">R</text>
<text transform="translate(477.30 490.6) scale(0.819 1)">E</text>
<text transform="translate(482.62 490.6) scale(0.894 1)">F</text>
<text transform="translate(487.96 490.6) scale(0.819 1)">E</text>
<text transform="translate(493.29 490.6) scale(0.757 1)">R</text>
<text transform="translate(503.94 490.6) scale(0.894 1)">T</text>
<text transform="translate(509.28 490.6) scale(0.702 1)">O</text>
<text transform="translate(471.97 502.0) scale(0.894 1)">F</text>
<text font-family="Liberation Mono" transform="translate(477.30 502.0) scale(0.838 1.03)">I</text>
<text transform="translate(482.62 502.0) scale(0.702 1)">G</text>
<text transform="translate(493.29 502.0) scale(0.920 1)">4</text>
<text transform="translate(498.62 502.0) scale(0.920 1)">8</text>
<text transform="translate(503.94 502.0) scale(0.920 1)">-</text>
<text transform="translate(509.28 502.0) scale(0.920 1)">0</text>
<text transform="translate(514.61 502.0) scale(0.920 1)">2</text>
<text transform="translate(471.97 513.4) scale(1.200 0.87)">(</text>
<text transform="translate(477.30 513.4) scale(0.819 1)">P</text>
<text transform="translate(482.62 513.4) scale(0.757 1)">N</text>
<text transform="translate(487.96 513.4) scale(0.757 1)">C</text>
<text transform="translate(498.62 513.4) scale(0.920 1)">4</text>
<text transform="translate(503.94 513.4) scale(0.920 1)">3</text>
<text transform="translate(509.28 513.4) scale(0.920 1)">2</text>
<text font-family="Liberation Mono" transform="translate(514.61 513.4) scale(0.838 1.03)">1</text>
<text font-family="Liberation Mono" transform="translate(519.94 513.4) scale(0.838 1.03)">1</text>
<text transform="translate(525.26 513.4) scale(1.200 0.87)">(</text>
<text transform="translate(530.60 513.4) scale(0.757 1)">R</text>
<text transform="translate(535.92 513.4) scale(0.757 1)">H</text>
<text transform="translate(541.25 513.4) scale(1.200 0.87)">)</text>
<text transform="translate(546.59 513.4) scale(1.200 0.87)">)</text>
<text transform="translate(471.97 524.3) scale(1.200 0.87)">(</text>
<text transform="translate(477.30 524.3) scale(0.819 1)">P</text>
<text transform="translate(482.62 524.3) scale(0.757 1)">N</text>
<text transform="translate(487.96 524.3) scale(0.757 1)">C</text>
<text transform="translate(498.62 524.3) scale(0.920 1)">4</text>
<text transform="translate(503.94 524.3) scale(0.920 1)">3</text>
<text transform="translate(509.28 524.3) scale(0.920 1)">2</text>
<text font-family="Liberation Mono" transform="translate(514.61 524.3) scale(0.838 1.03)">1</text>
<text transform="translate(519.94 524.3) scale(0.920 1)">2</text>
<text transform="translate(525.26 524.3) scale(1.200 0.87)">(</text>
<text transform="translate(530.60 524.3) scale(0.920 1)">L</text>
<text transform="translate(535.92 524.3) scale(0.757 1)">H</text>
<text transform="translate(541.25 524.3) scale(1.200 0.87)">)</text>
<text transform="translate(546.59 524.3) scale(1.200 0.87)">)</text>
<text transform="translate(68.07 502.9) scale(0.757 1)">R</text>
<text transform="translate(73.40 502.9) scale(0.819 1)">E</text>
<text transform="translate(78.73 502.9) scale(0.894 1)">F</text>
<text transform="translate(84.06 502.9) scale(0.819 1)">E</text>
<text transform="translate(89.39 502.9) scale(0.757 1)">R</text>
<text transform="translate(100.05 502.9) scale(0.894 1)">T</text>
<text transform="translate(105.38 502.9) scale(0.702 1)">O</text>
<text transform="translate(68.07 514.1) scale(0.894 1)">F</text>
<text font-family="Liberation Mono" transform="translate(73.40 514.1) scale(0.838 1.03)">I</text>
<text transform="translate(78.73 514.1) scale(0.702 1)">G</text>
<text transform="translate(89.39 514.1) scale(0.920 1)">3</text>
<text font-family="Liberation Mono" transform="translate(94.72 514.1) scale(0.838 1.03)">1</text>
<text transform="translate(100.05 514.1) scale(0.920 1)">-</text>
<text transform="translate(105.38 514.1) scale(0.920 1)">0</text>
<text transform="translate(110.71 514.1) scale(0.920 1)">2</text>
<text transform="translate(68.07 525.1) scale(1.200 0.87)">(</text>
<text transform="translate(73.40 525.1) scale(0.819 1)">P</text>
<text transform="translate(78.73 525.1) scale(0.757 1)">N</text>
<text transform="translate(84.06 525.1) scale(0.757 1)">C</text>
<text transform="translate(94.72 525.1) scale(0.920 1)">5</text>
<text transform="translate(100.05 525.1) scale(0.920 1)">2</text>
<text transform="translate(105.38 525.1) scale(0.920 1)">2</text>
<text transform="translate(110.71 525.1) scale(0.920 1)">5</text>
<text transform="translate(116.03 525.1) scale(0.920 1)">5</text>
<text transform="translate(121.37 525.1) scale(1.200 0.87)">(</text>
<text transform="translate(126.70 525.1) scale(0.757 1)">R</text>
<text transform="translate(132.03 525.1) scale(0.757 1)">H</text>
<text transform="translate(137.36 525.1) scale(1.200 0.87)">)</text>
<text transform="translate(142.69 525.1) scale(1.200 0.87)">)</text>
<text transform="translate(68.07 536.1) scale(1.200 0.87)">(</text>
<text transform="translate(73.40 536.1) scale(0.819 1)">P</text>
<text transform="translate(78.73 536.1) scale(0.757 1)">N</text>
<text transform="translate(84.06 536.1) scale(0.757 1)">C</text>
<text transform="translate(94.72 536.1) scale(0.920 1)">5</text>
<text transform="translate(100.05 536.1) scale(0.920 1)">2</text>
<text transform="translate(105.38 536.1) scale(0.920 1)">2</text>
<text transform="translate(110.71 536.1) scale(0.920 1)">5</text>
<text transform="translate(116.03 536.1) scale(0.920 1)">6</text>
<text transform="translate(121.37 536.1) scale(1.200 0.87)">(</text>
<text transform="translate(126.70 536.1) scale(0.920 1)">L</text>
<text transform="translate(132.03 536.1) scale(0.757 1)">H</text>
<text transform="translate(137.36 536.1) scale(1.200 0.87)">)</text>
<text transform="translate(142.69 536.1) scale(1.200 0.87)">)</text>
</g>
<text x="407.5" y="405.8" font-size="9" text-anchor="middle" textLength="25.5" lengthAdjust="spacingAndGlyphs">MARK</text>
<g font-size="10" text-anchor="middle" fill="#000" stroke="#000" stroke-width="0.15">
<text transform="translate(756.44 543.2) scale(0.900 1)">4</text>
<text transform="translate(762.12 543.2) scale(0.900 1)">8</text>
<text transform="translate(767.80 543.2) scale(0.900 1)">0</text>
<text transform="translate(773.48 543.2) scale(0.900 1)">8</text>
<text transform="translate(779.16 543.2) scale(0.900 1)">0</text>
<text font-family="Liberation Mono" transform="translate(784.84 543.2) scale(0.797 1.03)">1</text>
<text transform="translate(790.52 543.2) scale(0.720 1)">C</text>
</g>
<rect x="667.4" y="149.2" width="59.4" height="15" fill="none" stroke="#A20C38" stroke-width="2.8"/>
</svg>
</body></html>
